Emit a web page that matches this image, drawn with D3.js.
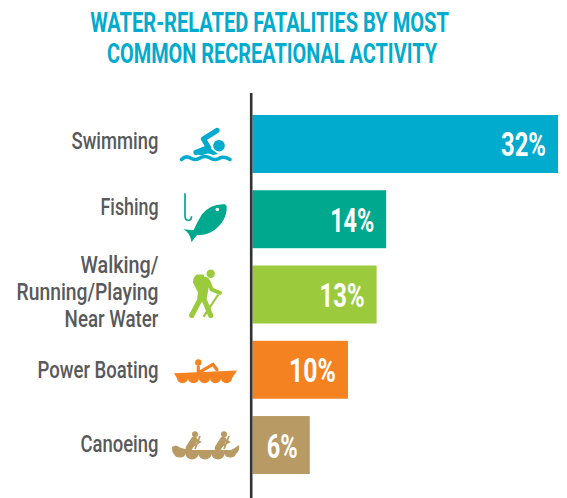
<!DOCTYPE html>
<html><head><meta charset="utf-8">
<script src="https://cdnjs.cloudflare.com/ajax/libs/d3/7.8.5/d3.min.js"></script>
<style>html,body{margin:0;padding:0;background:#fff}svg{display:block}
text{font-family:"Roboto","Liberation Sans Narrow","DejaVu Sans Condensed",sans-serif}</style>
</head><body><svg id="c" width="567" height="498"></svg>
<script>
const titleLines = ["WATER-RELATED FATALITIES BY MOST", "COMMON RECREATIONAL ACTIVITY"];
const categories = ["Swimming", "Fishing", "Walking/Running/Playing Near Water", "Power Boating", "Canoeing"];
const labelLines = [["Swimming"], ["Fishing"], ["Walking/", "Running/Playing", "Near Water"], ["Power Boating"], ["Canoeing"]];
const values = [32, 14, 13, 10, 6];
const colors = ["#00ABCE", "#00A88E", "#9BCB3C", "#F58220", "#B89A64"];

// Layout-only settings
const titleFit = [359, 330];
const titleCentre = [269.5, 272];
const labelFit = {"Swimming": 87, "Fishing": 58, "Walking/": 78, "Running/Playing": 142, "Near Water": 94, "Power Boating": 121, "Canoeing": 78};
const labelBaseOffset = [5.5, -4, -21.5, 8, 7];
const valueFit = {32: 45, 14: 44, 13: 45, 10: 47, 6: 31};

const svg = d3.select("#c");
const x = d3.scaleLinear().domain([0, 32]).range([252.5, 558]);
const y = d3.scaleBand().domain(categories).range([115, 474]).paddingInner(0.23).paddingOuter(0);

// Squeeze a text horizontally to a target width, keeping its anchor point fixed
function fit(sel, px, py, width) {
  const natural = sel.node().getComputedTextLength();
  sel.attr("transform", `translate(${px},${py}) scale(${width / natural},1)`);
}

titleLines.forEach((t, i) => {
  const s = svg.append("text").attr("text-anchor", "middle")
    .attr("font-size", 27.5).attr("font-weight", 700).attr("fill", "#00ABCE").text(t);
  fit(s, titleCentre[i], 32 + i * 31, titleFit[i]);
});

svg.selectAll("rect.bar").data(values).join("rect").attr("class", "bar")
  .attr("x", x(0)).attr("y", (d, i) => y(categories[i]))
  .attr("width", d => x(d) - x(0)).attr("height", y.bandwidth())
  .attr("fill", (d, i) => colors[i]);

svg.append("line").attr("x1", 251.2).attr("x2", 251.2).attr("y1", 93).attr("y2", 498)
  .attr("stroke", "#333335").attr("stroke-width", 2.6);

values.forEach((d, i) => {
  const s = svg.append("text").attr("class", "val").attr("text-anchor", "end")
    .attr("font-size", 33).attr("font-weight", 700).attr("fill", "#fff").text(d + "%");
  fit(s, x(d) - 12, y(categories[i]) + y.bandwidth() / 2 + 12.5, valueFit[d]);
});

labelLines.forEach((lines, i) => {
  const cy = y(categories[i]) + y.bandwidth() / 2;
  lines.forEach((t, j) => {
    const s = svg.append("text").attr("text-anchor", "end").attr("font-size", 24.5)
      .attr("font-weight", 500).attr("fill", "#58595B").text(t);
    fit(s, 158.5, cy + labelBaseOffset[i] + j * 27, labelFit[t]);
  });
});

// Pictograms, drawn around each band's centre
const icons = [
  (g, c) => {
    g.append("circle").attr("cx", 14).attr("cy", 1.7).attr("r", 5.8).attr("fill", c);
    g.append("path").attr("d", "M12,-13.5L-1.5,-5L3.5,3.5L-9,8.5").attr("fill", "none").attr("stroke", c).attr("stroke-width", 5.2).attr("stroke-linecap", "round").attr("stroke-linejoin", "round");
    g.append("path").attr("d", "M-9,8.5L4,3L13,10L8,11Q3,8 -2,11Q-6,12 -9,8.5Z").attr("fill", c);
    g.append("path").attr("d", "M-23.5,15.5Q-19,11 -14.5,14Q-9.5,17 -5,14Q0,11 5,14Q10,17 15,14Q19,12 25,15.5").attr("fill", "none").attr("stroke", c).attr("stroke-width", 3.6).attr("stroke-linecap", "round");
  },
  (g, c) => {
    g.append("path").attr("d", "M-20,-26V-3Q-20,1 -16.5,1Q-13.5,1 -13.5,-3").attr("fill", "none").attr("stroke", c).attr("stroke-width", 1.7);
    g.append("path").attr("d", "M20,-15Q6,-16 -3,-5Q-8,3 -11.5,11L-21.7,10Q-15,13 -13.5,23Q-10,18 -8.3,16Q8,16 17,3Q22,-4 21.7,-13Z").attr("fill", c);
    g.append("circle").attr("cx", 12.3).attr("cy", -9.7).attr("r", 1.8).attr("fill", "#fff");
  },
  (g, c) => {
    g.append("circle").attr("cx", 5.7).attr("cy", -20.7).attr("r", 4.2).attr("fill", c);
    g.append("path").attr("d", "M-8,-20L-1,-20L-1,-4L-5,2Q-9,-6 -12,-12Q-12,-18 -8,-20Z").attr("fill", c);
    g.append("path").attr("d", "M0,-13L-3,3").attr("stroke", c).attr("stroke-width", 9.5).attr("stroke-linecap", "round");
    g.append("path").attr("d", "M-5,5L-13.3,21M-1.7,3.3L5.7,21").attr("stroke", c).attr("stroke-width", 5.2).attr("stroke-linecap", "round").attr("fill", "none");
    g.append("path").attr("d", "M3.3,-13.3L6.7,-5L15,-1.7").attr("stroke", c).attr("stroke-width", 4).attr("stroke-linecap", "round").attr("stroke-linejoin", "round").attr("fill", "none");
    g.append("path").attr("d", "M13.3,0L-1.5,22.3").attr("stroke", c).attr("stroke-width", 2.2);
  },
  (g, c) => {
    g.append("circle").attr("cx", -6.7).attr("cy", -7.3).attr("r", 3.2).attr("fill", c);
    g.append("path").attr("d", "M-6.7,-3V3M-5,2L8,-5.5L12,0").attr("stroke", c).attr("stroke-width", 3.2).attr("fill", "none").attr("stroke-linecap", "round");
    g.append("path").attr("d", "M-31,3.5L32,0.7L27,8.5a5.5,5 0 0 1 -11,0a5.5,5 0 0 1 -11,0a5.5,5 0 0 1 -11,0a5.5,5 0 0 1 -11,0a5.5,5 0 0 1 -11,0Z").attr("fill", c);
  },
  (g, c) => {
    [-10, 19].forEach(px => {
      g.append("circle").attr("cx", px).attr("cy", -10.7).attr("r", 3).attr("fill", c);
      g.append("path").attr("d", `M${px - 1},-5L${px - 6},3`).attr("stroke", c).attr("stroke-width", 6.5).attr("stroke-linecap", "round");
      g.append("path").attr("d", `M${px + 5},-9L${px},4M${px},-6L${px + 5},-3L${px - 2},1`).attr("stroke", c).attr("stroke-width", 1.8).attr("fill", "none");
    });
    g.append("path").attr("d", "M-33,2Q-29,-1 -26,2Q-22,4 -14,5H26Q30,3 34,0Q35,6 31,9a6,5 0 0 1 -11.5,0a6,5 0 0 1 -13,0a6,5 0 0 1 -13,0a6,5 0 0 1 -13,0a6,5 0 0 1 -11.5,0Q-33,8 -33,2Z").attr("fill", c);
  }
];
const iconX = 205;
icons.forEach((draw, i) => {
  const g = svg.append("g").attr("transform", `translate(${iconX},${y(categories[i]) + y.bandwidth() / 2})`);
  draw(g, colors[i]);
});
</script></body></html>
